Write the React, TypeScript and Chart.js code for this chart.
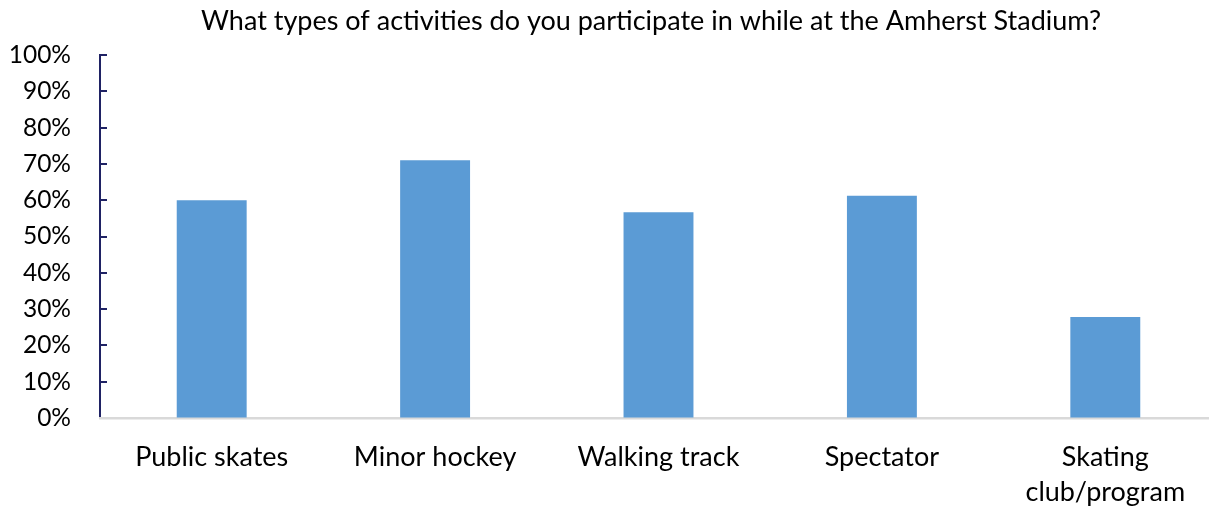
import React, { useEffect, useRef } from "react";
import { Chart, registerables } from "chart.js";

Chart.register(...registerables);

const titleText = "What types of activities do you participate in while at the Amherst Stadium?";
const categories: (string | string[])[] = [
  "Public skates",
  "Minor hockey",
  "Walking track",
  "Spectator",
  ["Skating", "club/program"],
];
const values = [60, 71, 56.7, 61.2, 27.8];
const yTicks = [0, 10, 20, 30, 40, 50, 60, 70, 80, 90, 100];

const FONT = "Lato, 'Noto Sans', sans-serif";
const NAVY = "#1f2264";
const CANVAS_W = 1302;

const innerTicks = {
  id: "innerTicks",
  afterLayout(chart: any) {
    const t = chart.titleBlock;
    if (t) {
      t.left = 0;
      t.right = CANVAS_W;
      t.width = CANVAS_W;
    }
  },
  afterDraw(chart: any) {
    const { ctx, chartArea } = chart;
    const y = chart.scales.y;
    ctx.save();
    ctx.strokeStyle = NAVY;
    ctx.lineWidth = 2;
    yTicks.forEach((v) => {
      if (v === 0) return;
      const py = Math.round(y.getPixelForValue(v));
      ctx.beginPath();
      ctx.moveTo(chartArea.left, py);
      ctx.lineTo(chartArea.left + 7, py);
      ctx.stroke();
    });
    ctx.restore();
  },
};

export default function App() {
  const ref = useRef<HTMLCanvasElement | null>(null);
  useEffect(() => {
    if (!ref.current) return;
    const chart = new Chart(ref.current, {
      type: "bar",
      data: {
        labels: categories,
        datasets: [
          {
            data: values,
            backgroundColor: "#5b9bd5",
            borderWidth: 0,
            barPercentage: 0.313,
            categoryPercentage: 1,
          },
        ],
      },
      options: {
        responsive: false,
        animation: false,
        layout: { padding: { left: 0, right: 85, top: 0, bottom: 0 } },
        plugins: {
          legend: { display: false },
          tooltip: { enabled: false },
          title: {
            display: true,
            text: titleText,
            color: "#000",
            font: { family: FONT, size: 27, weight: "normal" },
            padding: { top: 5, bottom: 17.6 },
          },
        },
        scales: {
          y: {
            min: 0,
            max: 100,
            afterFit: (s: any) => {
              s.width = 100;
            },
            afterBuildTicks: (s: any) => {
              s.ticks = yTicks.map((v) => ({ value: v }));
            },
            ticks: {
              color: "#000",
              padding: 29,
              font: { family: FONT, size: 24.5 },
              callback: (v: any) => v + "%",
            },
            grid: { display: true, drawOnChartArea: false, drawTicks: false, color: "rgba(0,0,0,0)" },
            border: { display: true, color: NAVY, width: 2 },
          },
          x: {
            afterFit: (s: any) => {
              s.height = 93;
            },
            ticks: {
              color: "#000",
              padding: 22,
              maxRotation: 0,
              autoSkip: false,
              font: { family: FONT, size: 27, lineHeight: 1.3 },
            },
            grid: { display: false, drawTicks: false },
            border: { display: true, color: "#d9d9d9", width: 2.5 },
          },
        },
      },
      plugins: [innerTicks],
    });
    return () => chart.destroy();
  }, []);
  return (
    <div
      style={{
        position: "fixed",
        left: 0,
        top: 0,
        width: 1209,
        height: 511,
        overflow: "hidden",
        background: "#fff",
      }}
    >
      <canvas ref={ref} width={CANVAS_W} height={511} style={{ display: "block" }} />
    </div>
  );
}
